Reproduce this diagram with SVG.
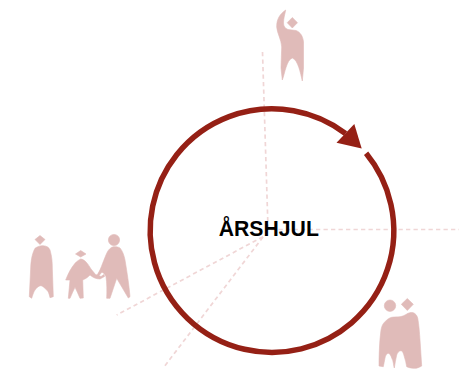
<svg xmlns="http://www.w3.org/2000/svg" width="461" height="369" viewBox="0 0 461 369">
<style>
.fig{fill:#e0bbb9;stroke:#e0bbb9;stroke-width:0.6;stroke-linejoin:round}
.spoke{fill:none;stroke:#f0d6d6;stroke-width:1.7;stroke-dasharray:4.3 3.2}
.ring{fill:none;stroke:#952015;stroke-width:5.5}
.title{font-family:"Liberation Sans",Arial,sans-serif;font-weight:700;font-size:21.200px;fill:#000;text-anchor:middle}
</style>
<g id="connectors">
<path class="spoke" d="M262.500 52L268 228"/>
<path class="spoke" d="M271 229.500H459"/>
<path class="spoke" d="M263 236.700L116.700 315"/>
<path class="spoke" d="M263 237L164 367"/>
<path class="ring" d="M366.100 153.300A121.800 121.800 0 1 1 345.500 133.500"/>
<polygon points="361.700,148.500 354.300,124 336.500,142.700" fill="#952015"/>
</g>
<g id="node-center"><text class="title" x="268.800" y="235.500">ÅRSHJUL</text></g>
<g id="node-top" class="fig">
<path d="M285.700 10C280 14 276.500 19 276.700 27C277 33 281.500 40 281.700 47L281 68L282.300 80C285 73 286.500 60 292.300 58C298 60 300.500 73 302.300 81L303.500 68V42C303 36 300 32 296 30.500L288 29.500C285 28.500 283.500 26 283.500 23C283.500 18 285 14 285.700 10Z"/>
<polygon points="292.300,17.500 297.500,22.700 292.300,28 287.200,22.700"/>
</g>
<g id="node-family" class="fig">
<polygon points="40,235.500 45,239.500 40,244.500 35,239.500"/>
<path d="M35 248.300C38 246 41 245.700 43.300 245.700C47 246 49 247.500 50 250C52 257 52.300 262 52.300 268L53.300 296.700L50 297.700C49 293 48 291 46.700 290C44 287.500 42.500 285.700 40.700 285.700C38.500 285.700 36.500 288 35 290C33.500 292 32.500 296 31.700 298.300L29.300 296.700L30.700 268C31 258 33 252 35 248.300Z"/>
<path d="M80.700 250.500L86 254L80.700 257L75.500 254Z"/>
<path d="M80.700 259C85 259.500 88 264 91 269L95.500 274.500L101 276.500L104 274.500L104.500 276.500L100 279C96 279 93 277.500 90 275C88 277 85.500 279 82.700 280L83.300 298L80 298.300C78.500 295 77 291 75 287.300C73 291 71.500 295 70 298.300L68.300 298.300L70 280H65.700C68 274 71 268 75 263.300C77 261 79 260 80.700 259Z"/>
<circle cx="114" cy="240" r="5.600"/>
<path d="M113.300 246.700C116 246.500 118.500 247 120 248C122.500 251 124 255 125 260C127 272 129 285 130 296.700L128.300 298L116.700 278.300L110 298.300H106.700C107 291 107 283 106 276.700C104 273 103 272 101.500 272.500L98 277L96.500 275.500C100 272 102.500 263 106.700 253.300C108.500 249.500 110.500 247.500 113.300 246.700Z"/>
</g>
<g id="node-couple" class="fig">
<circle cx="390" cy="305.700" r="5.700"/>
<polygon points="407.300,298.500 413.300,304.300 407.300,310.500 401.300,304.300"/>
<path d="M413.300 312.700C415.500 313.500 417 315.500 417.700 318C419 325 419.500 333 420 340L421.700 366C419 367.500 417 368.300 415 368.300C412 368.300 409 367.800 406.700 366.700C406 363 405.500 360 404.300 356.700C403.500 353.500 402.500 350.700 401 350.700C399 350.700 397.500 352.500 396.700 355C395.700 359 395 364 394.300 368C393.500 366 393.500 361 391.700 358C391 355.500 389.500 353.300 388.300 353.300C386.500 353.300 385.500 356 385 358C384.300 361 384 364 383.300 366.700L379 366C379 355 379.500 341 381 330C381.700 326 383 323.500 385 321.700C387 319.500 389 318 391.700 317.300C394.500 316.700 397.500 317 400 316.700C402.500 316.300 404.500 315.500 406.700 314C409 312.700 411 312.200 413.300 312.700Z"/>
</g>
</svg>
